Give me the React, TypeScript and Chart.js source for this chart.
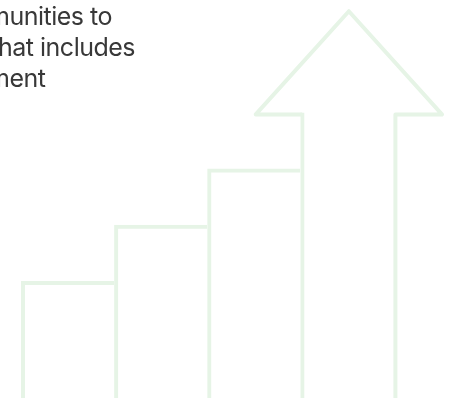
import React, { useEffect, useRef } from "react";
import { Chart, registerables } from "chart.js";

Chart.register(...registerables);

// ---- data ----
const stepLabels = ["Step 1", "Step 2", "Step 3", "Step 4"];
const stepValues = [2.1, 3.1, 4.1, 5.1];
const arrowTipValue = 6.9;
const yMax = 7.1;
const arrowWingFraction = 0.5;
const textLines = ["munities to", "hat includes", "ment"];
const textOffsets = [-12, -2, -12];

// ---- style ----
const STROKE = "#e6f4e6";
const STROKE_W = 4;
const W = 455;
const H = 398;
const CANVAS_H = 399;

const arrowPlugin = {
  id: "arrowHead",
  afterDatasetsDraw(chart: any) {
    const meta = chart.getDatasetMeta(0);
    const bar = meta.data[meta.data.length - 1];
    if (!bar) return;
    const { x, y, width, base } = bar.getProps(["x", "y", "width", "base"], true);
    const half = width / 2;
    const sw = STROKE_W / 2;
    const xL = x - half + sw;
    const xR = x + half + sw;
    const cx = (xL + xR) / 2;
    const yB = y + sw;
    const wing = width * arrowWingFraction;
    const tipY = chart.scales.y.getPixelForValue(arrowTipValue);
    const ctx = chart.ctx;
    ctx.save();
    ctx.strokeStyle = STROKE;
    ctx.lineWidth = STROKE_W;
    ctx.lineJoin = "round";
    ctx.lineCap = "butt";
    ctx.beginPath();
    ctx.moveTo(xL, yB);
    ctx.lineTo(xL - wing, yB);
    ctx.lineTo(cx, tipY);
    ctx.lineTo(xR + wing, yB);
    ctx.lineTo(xR, yB);
    ctx.lineTo(xR, base + 2);
    ctx.stroke();
    ctx.restore();
  },
};

export default function App() {
  const canvasRef = useRef<HTMLCanvasElement | null>(null);

  useEffect(() => {
    if (!canvasRef.current) return;
    const last = stepValues.length - 1;
    const chart = new Chart(canvasRef.current, {
      type: "bar",
      data: {
        labels: stepLabels,
        datasets: [
          {
            data: stepValues,
            backgroundColor: "rgba(0,0,0,0)",
            borderColor: STROKE,
            borderWidth: (c: any) =>
              c.dataIndex === last
                ? { top: 0, left: STROKE_W, right: 0, bottom: 0 }
                : { top: STROKE_W, left: STROKE_W, right: 0, bottom: 0 },
            borderSkipped: false,
            inflateAmount: 0,
            categoryPercentage: 1,
            barPercentage: 1,
          } as any,
        ],
      },
      options: {
        responsive: false,
        maintainAspectRatio: false,
        animation: false,
        devicePixelRatio: 1,
        layout: { padding: { left: 21, right: W - 21 - 372.4, top: 0, bottom: 0 } },
        plugins: { legend: { display: false }, tooltip: { enabled: false } },
        scales: {
          x: { display: false },
          y: { display: false, min: 0, max: yMax },
        },
      },
      plugins: [arrowPlugin],
    });
    return () => chart.destroy();
  }, []);

  return (
    <div
      style={{
        position: "fixed",
        left: 0,
        top: 0,
        width: W,
        height: H,
        overflow: "hidden",
        background: "#ffffff",
      }}
    >
      <canvas
        ref={canvasRef}
        width={W}
        height={CANVAS_H}
        style={{ position: "absolute", left: 0, top: 0, width: W, height: CANVAS_H, display: "block" }}
      />
      {textLines.map((t, i) => (
        <div
          key={i}
          style={{
            position: "absolute",
            left: textOffsets[i],
            top: 0 + i * 31,
            fontFamily: "Inter, sans-serif",
            fontSize: 25,
            letterSpacing: "-0.5px",
            lineHeight: "32px",
            color: "#383838",
            whiteSpace: "nowrap",
          }}
        >
          {t}
        </div>
      ))}
    </div>
  );
}
